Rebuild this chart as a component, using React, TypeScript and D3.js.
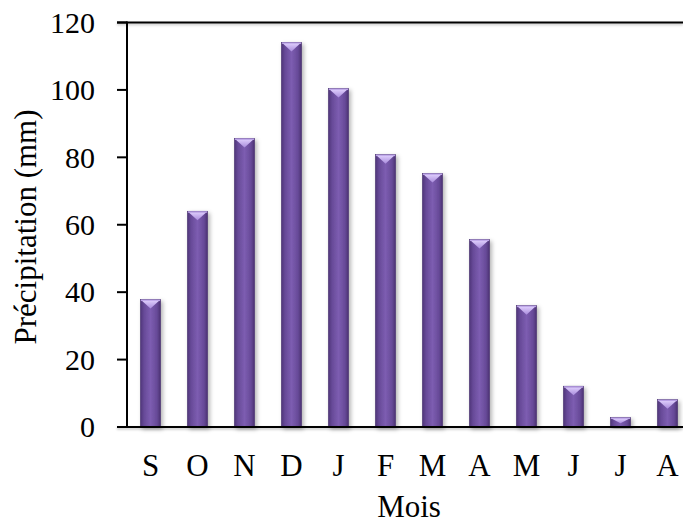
import React from "react";
import * as d3 from "d3";

// Monthly precipitation, September to August
const months = ["S", "O", "N", "D", "J", "F", "M", "A", "M", "J", "J", "A"];
const precipitation = [37.8, 64, 85.6, 114.1, 100.4, 80.8, 75.2, 55.6, 36, 12.1, 2.8, 8.1];
const yTicks = [0, 20, 40, 60, 80, 100, 120];

const W = 683;
const H = 523;
const left = 127;
const right = 691;
const top = 22.5;
const bottom = 427;
const FONT = "'Liberation Serif', 'Times New Roman', serif";
const TICK_FS = 30;
const LABEL_FS = 31;

export default function App() {
  const idx = months.map((_, i) => i);
  const x = d3.scaleBand<number>().domain(idx).range([left, right]).padding(0);
  const y = d3.scaleLinear().domain([0, 120]).range([bottom, top]);
  const bw = x.bandwidth() * 0.43;

  return (
    <svg
      width={W}
      height={H}
      style={{ position: "absolute", left: 0, top: 0, background: "#fff" }}
    >
      <defs>
        <linearGradient id="barBody" x1="0" x2="1" y1="0" y2="0">
          <stop offset="0" stopColor="#4f3579" />
          <stop offset="0.18" stopColor="#674a98" />
          <stop offset="0.5" stopColor="#7d5db1" />
          <stop offset="0.82" stopColor="#674a98" />
          <stop offset="1" stopColor="#4a3172" />
        </linearGradient>
        <linearGradient id="bevel" x1="0" x2="0" y1="0" y2="1">
          <stop offset="0" stopColor="#dccbfb" />
          <stop offset="1" stopColor="#a98cdc" />
        </linearGradient>
        <filter id="shadow" x="-40%" y="-10%" width="180%" height="130%">
          <feDropShadow dx="2" dy="2" stdDeviation="2" floodColor="#000" floodOpacity="0.3" />
        </filter>
        <filter id="lineShadow" x="-5%" y="-200%" width="110%" height="500%">
          <feDropShadow dx="0" dy="1.5" stdDeviation="1" floodColor="#000" floodOpacity="0.25" />
        </filter>
      </defs>

      {/* bars with a bevelled top */}
      {precipitation.map((v, i) => {
        const cx = (x(i) as number) + x.bandwidth() / 2;
        const x0 = cx - bw / 2;
        const yt = y(v);
        const h = bottom - yt;
        const bevelH = Math.min(9, h * 0.6);
        return (
          <g key={i}>
            <rect
              x={x0}
              y={yt}
              width={bw}
              height={h}
              fill="url(#barBody)"
              stroke="#4a3270"
              strokeWidth={0.6}
              filter="url(#shadow)"
            />
            <rect x={x0 + 0.5} y={yt} width={bw - 1} height={1.5} fill="#b89fe6" />
            <path
              d={`M${x0 + 1.5},${yt + 1.2} L${x0 + bw - 1.5},${yt + 1.2} L${cx},${yt + bevelH} Z`}
              fill="url(#bevel)"
            />
          </g>
        );
      })}

      {/* axes */}
      <g filter="url(#lineShadow)">
        <line x1={117} x2={W} y1={top} y2={top} stroke="#000" strokeWidth={2} />
        <line x1={117} x2={W} y1={bottom} y2={bottom} stroke="#000" strokeWidth={2} />
      </g>
      <line x1={left} x2={left} y1={top - 1} y2={bottom + 1} stroke="#000" strokeWidth={2} />
      {yTicks.map((t) => (
        <g key={t}>
          <line x1={117} x2={left} y1={y(t)} y2={y(t)} stroke="#000" strokeWidth={2} />
          <text
            x={95}
            y={y(t)}
            dy="0.34em"
            textAnchor="end"
            fontFamily={FONT}
            fontSize={TICK_FS}
            fill="#000"
          >
            {t}
          </text>
        </g>
      ))}

      {/* category labels */}
      {months.map((m, i) => (
        <text
          key={i}
          x={(x(i) as number) + x.bandwidth() / 2}
          y={476}
          textAnchor="middle"
          fontFamily={FONT}
          fontSize={LABEL_FS}
          fill="#000"
        >
          {m}
        </text>
      ))}

      <text x={409} y={517} textAnchor="middle" fontFamily={FONT} fontSize={LABEL_FS} fill="#000">
        Mois
      </text>
      <text
        transform={`translate(36, 227) rotate(-90)`}
        textAnchor="middle"
        fontFamily={FONT}
        fontSize={LABEL_FS}
        fill="#000"
      >
        Précipitation (mm)
      </text>
    </svg>
  );
}
